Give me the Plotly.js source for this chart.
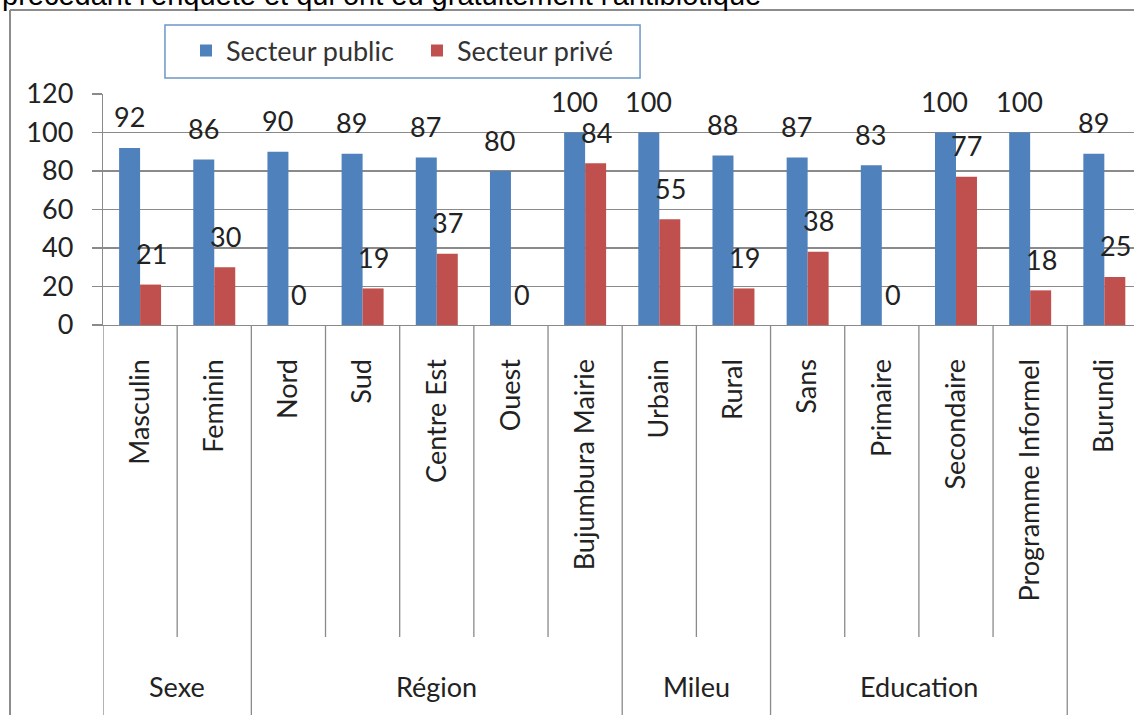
<!DOCTYPE html>
<html>
<head>
<meta charset="utf-8">
<script src="https://cdn.plot.ly/plotly-3.0.1.min.js"></script>
<style>html,body{margin:0;padding:0;background:#fff;}#chart{width:1134px;height:715px;}</style>
</head>
<body>
<div id="chart"></div>
<script>
// ---- data ----
const categories = ["Masculin","Feminin","Nord","Sud","Centre Est","Ouest","Bujumbura Mairie","Urbain","Rural","Sans","Primaire","Secondaire","Programme Informel","Burundi"];
const groupNames = ["Sexe","Région","Mileu","Education",""];
const groupSizes = [2,5,2,4,1];
const publicValues = [92,86,90,89,87,80,100,100,88,87,83,100,100,89];
const priveValues  = [21,30,0,19,37,0,84,55,19,38,0,77,18,25];
const seriesNames = ["Secteur public","Secteur privé"];
const titleText = "précédant l'enquête et qui ont eu gratuitement l'antibiotique";

// ---- styles ----
const BLUE = "#4F81BD", RED = "#C0504D", GRID = "#8a8a8a";
const FONT = "Lato, 'Open Sans', sans-serif";
const FS = 27;

const traces = [
  {type:"bar", name:seriesNames[0], x:categories, y:publicValues, marker:{color:BLUE}, hoverinfo:"skip"},
  {type:"bar", name:seriesNames[1], x:categories, y:priveValues, marker:{color:RED}, hoverinfo:"skip"}
];

const annotations = [];
publicValues.forEach((v,i)=>annotations.push({x:i, y:v, xref:"x", yref:"y", text:String(v), showarrow:false, xshift:-11, yshift:31, font:{family:FONT,size:FS,color:"#222"}}));
priveValues.forEach((v,i)=>annotations.push({x:i, y:v, xref:"x", yref:"y", text:String(v), showarrow:false, xshift:11, yshift:31, font:{family:FONT,size:FS,color:"#222"}}));

// group labels and divider lines
const shapes = [];
const LONG = -1.75, SHORT = -1.3506;
let start = 0;
shapes.push({type:"line", xref:"x", yref:"paper", x0:-0.5, x1:-0.5, y0:0, y1:LONG, line:{color:GRID,width:1.3}});
groupSizes.forEach((n,g)=>{
  for (let k=1;k<n;k++){
    const b = start + k - 0.5;
    shapes.push({type:"line", xref:"x", yref:"paper", x0:b, x1:b, y0:0, y1:SHORT, line:{color:GRID,width:1.3}});
  }
  const end = start + n - 0.5;
  shapes.push({type:"line", xref:"x", yref:"paper", x0:end, x1:end, y0:0, y1:LONG, line:{color:GRID,width:1.3}});
  if (groupNames[g]) annotations.push({x:start + (n-1)/2, y:-1.567, xref:"x", yref:"paper", text:groupNames[g], showarrow:false, yanchor:"middle", font:{family:FONT,size:FS,color:"#222"}});
  start += n;
});
// outer frame (left and top edges)
shapes.push({type:"line", xref:"paper", yref:"paper", x0:-0.0902, x1:-0.0902, y0:1.3636, y1:-1.8, line:{color:"#8c8c8c",width:2}});
shapes.push({type:"line", xref:"paper", yref:"paper", x0:-0.0902, x1:1.05, y0:1.3636, y1:1.3636, line:{color:"#8c8c8c",width:2}});
// legend box
shapes.push({type:"rect", xref:"paper", yref:"paper", x0:0.0601, x1:0.5209, y0:1.0693, y1:1.2987, line:{color:"#6c96c8",width:1.5}, fillcolor:"rgba(0,0,0,0)"});
// cropped heading text
annotations.push({x:-0.0999, y:1.3504, xref:"paper", yref:"paper", xanchor:"left", yanchor:"bottom", text:titleText, showarrow:false, font:{family:"'Liberation Sans', Arial, sans-serif", size:29, color:"#000"}});

const layout = {
  width:1134, height:715,
  margin:{l:103, r:0, t:94, b:390, pad:0},
  paper_bgcolor:"#fff", plot_bgcolor:"#fff",
  barmode:"group", bargap:0.434, bargroupgap:0,
  font:{family:FONT, color:"#222"},
  xaxis:{type:"category", range:[-0.5,13.4], tickangle:-90, ticks:"", showgrid:false, showline:true, linecolor:GRID, linewidth:1.3,
         tickfont:{family:FONT,size:FS,color:"#222"}, ticklabelstandoff:22, automargin:false, fixedrange:true},
  yaxis:{range:[0,120], dtick:20, showgrid:true, gridcolor:GRID, gridwidth:1.3, showline:true, linecolor:GRID, linewidth:1.3,
         ticks:"outside", ticklen:10, tickcolor:GRID, tickwidth:1.3, tickfont:{family:FONT,size:FS,color:"#222"}, ticklabelstandoff:13, zeroline:false, automargin:false, fixedrange:true},
  showlegend:true,
  legend:{orientation:"h", x:0.0805, y:1.186, xanchor:"left", yanchor:"middle", bgcolor:"rgba(0,0,0,0)", borderwidth:0,
          entrywidth:186, entrywidthmode:"pixels",
          font:{family:FONT,size:FS,color:"#333"}},
  annotations:annotations,
  shapes:shapes
};

Plotly.newPlot("chart", traces, layout, {displayModeBar:false, staticPlot:true});
</script>
</body>
</html>
